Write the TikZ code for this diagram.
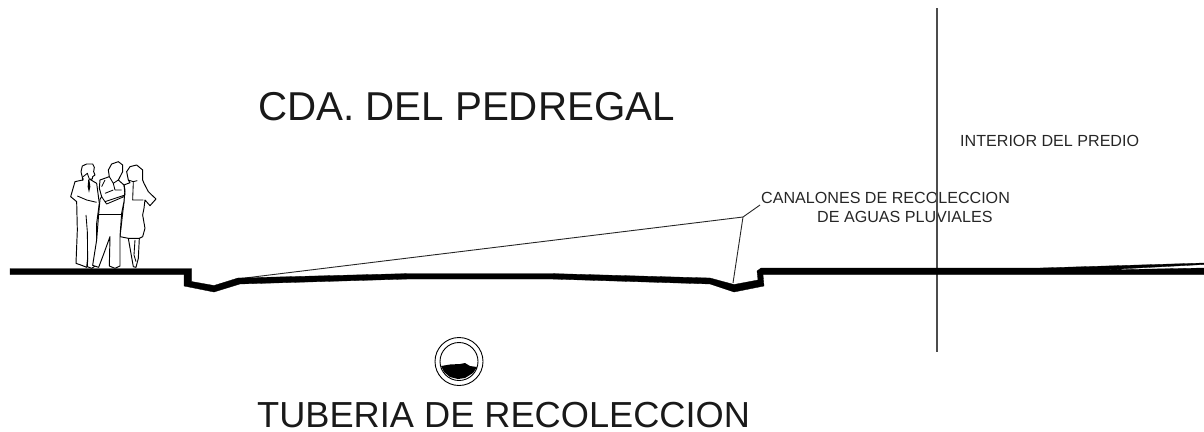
\documentclass[tikz,border=0pt]{standalone}
\usepackage{fontspec}
\setmainfont{Liberation Sans}
\tikzset{
 bigone/.style={inner sep=0pt,font=\fontsize{40.3}{40.3}\selectfont,text=black!90},
 bigtwo/.style={inner sep=0pt,font=\fontsize{36.2}{36.2}\selectfont,text=black!90},
 small/.style={inner sep=0pt,font=\fontsize{16.1}{16.1}\selectfont,text=black!85},
 leader/.style={draw=black!85,line width=0.9pt},
 ground/.style={fill=black,draw=black,line width=0.3pt,line join=round},
 fig/.style={draw=black,line width=0.95pt,fill=white,line join=round},
 figl/.style={draw=black,line width=0.85pt,line join=round}
}
\begin{document}
\begin{tikzpicture}[x=1pt,y=-1pt]
\useasboundingbox (0,0) rectangle (1204,431);
\node[bigone,anchor=base west] (t1) at (258,120.5) {CDA. DEL PEDREGAL};
\node[bigtwo,anchor=base west] (t2) at (257,427.5) {TUBERIA DE RECOLECCION};
\node[small,anchor=base west] (t3) at (960,146) {INTERIOR DEL PREDIO};
\node[small,anchor=base west] (t4) at (761,203) {CANALONES DE RECOLECCION};
\node[small,anchor=base west] (t5) at (817,222) {DE AGUAS PLUVIALES};
\coordinate (v1) at (937,8); \coordinate (v2) at (937,352);
\draw[draw=black!70,line width=1.1pt] (v1) -- (v2);
\coordinate (lh) at (743,217); \coordinate (le) at (760,205);
\coordinate (la) at (245,278); \coordinate (lb) at (733,283);
\draw[leader] (la) -- (lh) -- (le);
\draw[leader] (lh) -- (lb);
\fill[ground] (10,268.5) -- (191.5,268.5) -- (191.5,281.5) -- (214,285.5) -- (238,278) -- (410,273.5) -- (550,273.5) -- (710,278) -- (734,284.5) -- (758,280) -- (757,271) -- (761,268) -- (1040,268) -- (1204,263) -- (1204,264.5) -- (1100,270) -- (1204,268) -- (1204,274.5) -- (763,274.5) -- (764,286) -- (734,292) -- (710,284) -- (550,279) -- (410,279) -- (240,284) -- (214,292) -- (184,286) -- (184,274.5) -- (10,274.5) -- cycle;
\draw[draw=black,line width=0.9pt] (459,361.5) circle (24);
\draw[draw=black,line width=0.9pt] (459,361.5) circle (19);
\fill[black] (441,366) -- (450,364.5) -- (460,364) -- (465,363) -- (470,366) -- (477,367) -- (473,373) -- (465,378) -- (458,379) -- (450,377) -- (444,372) -- cycle;
% people
\begin{scope}[shift={(50,140)},x=0.3333pt,y=-0.3333pt]
% left man
\draw[fig] (97,112) -- (93,95) -- (97,78) -- (110,72) -- (128,72) -- (133,82) -- (131,95) -- (135,105) -- (128,110) -- (127,117) -- (118,117) -- (140,130) -- (148,190) -- (140,250) -- (140,375) -- (125,385) -- (112,380) -- (113,355) -- (110,382) -- (95,376) -- (78,370) -- (82,270) -- (80,185) -- (62,170) -- (75,125) -- (98,120) -- cycle;
\draw[figl] (97,112) -- (112,100) -- (118,117);
\fill[black] (115,118) -- (113,140) -- (117,158) -- (121,140) -- (118,118) -- cycle;
\draw[figl] (82,168) -- (110,180) -- (140,187) (112,275) -- (108,225) (112,275) -- (113,355) (100,115) -- (98,122);
% woman
\draw[fig] (230,95) -- (240,80) -- (260,75) -- (278,90) -- (278,120) -- (282,130) -- (295,155) -- (318,177) -- (300,197) -- (285,180) -- (282,205) -- (278,225) -- (285,265) -- (278,290) -- (268,295) -- (265,355) -- (258,382) -- (250,380) -- (242,335) -- (235,295) -- (210,290) -- (222,185) -- (222,135) -- (240,128) -- (235,120) -- cycle;
\draw[figl] (235,120) -- (250,125) -- (262,122) (250,125) -- (248,180) -- (280,180) (235,295) -- (268,295) (255,300) -- (252,345) -- (258,365);
% middle man
\draw[fig] (178,110) -- (175,90) -- (185,72) -- (205,65) -- (218,75) -- (218,95) -- (205,120) -- (222,135) -- (225,150) -- (222,185) -- (215,220) -- (210,290) -- (210,378) -- (195,385) -- (178,378) -- (180,290) -- (160,345) -- (146,382) -- (128,376) -- (140,300) -- (146,222) -- (150,178) -- (155,170) -- (148,145) -- (150,120) -- cycle;
\draw[figl] (178,110) -- (190,130) -- (205,120) (190,130) -- (195,150) -- (215,150);
\draw[figl] (155,140) -- (165,120) (155,170) -- (165,185) -- (225,165) -- (222,135) (165,160) -- (190,150) (165,185) -- (170,192) -- (222,170);
\draw[figl] (146,222) -- (215,222);
\end{scope}
\end{tikzpicture}
\end{document}
